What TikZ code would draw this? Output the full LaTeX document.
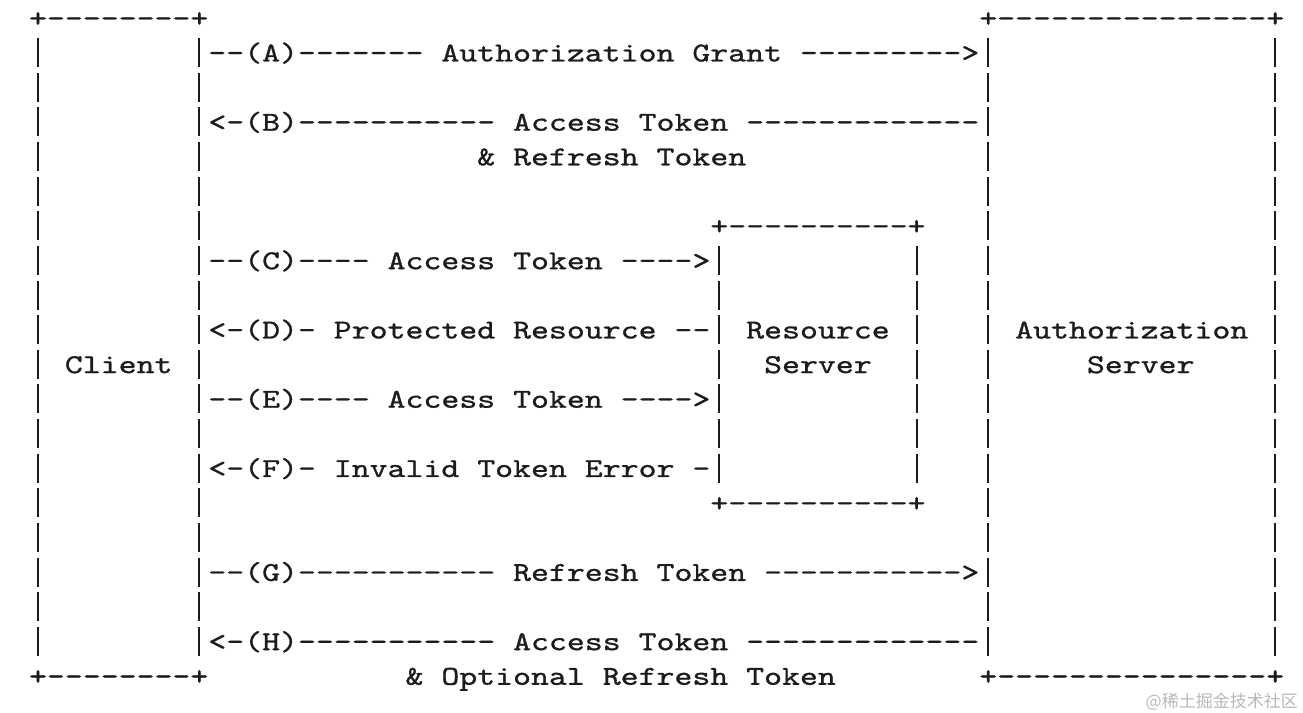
\documentclass[tikz,border=0pt]{standalone}
\usepackage{fontspec}
\newfontfamily\asciifont{lmmono10-regular.otf}[FakeStretch=1.251, FakeBold=1, Ligatures=TeXOff]
\newfontfamily\cjkfont{Noto Sans CJK SC}
\definecolor{ink}{RGB}{28,28,28}
\definecolor{wmark}{RGB}{185,185,185}
\tikzset{
  asc/.style={anchor=base west, inner sep=0pt, outer sep=0pt, text=ink,
    text depth=0pt, font=\asciifont\fontsize{27.3}{30}\selectfont},
  vbar/.style={draw=ink, line width=2.1pt},
}
% name, column, row, text
\newcommand\tx[4]{\node[asc] (#1) at ({29.035+17.93*#2},{26.8+34.63*#3}) {#4};}
\begin{document}
\begin{tikzpicture}[x=1pt, y=-1pt]
\useasboundingbox (0,0) rectangle (1303,712);
\fill[white] (0,0) rectangle (1303,712);

% vertical bars
\foreach \c in {0,9,53,69}
  \foreach \r in {1,...,18}
    \draw[vbar] ({38+17.93*\c},{18+34.63*\r-14.5}) -- ++(0,29);
\foreach \c in {38,49}
  \foreach \r in {7,...,13}
    \draw[vbar] ({38+17.93*\c},{18+34.63*\r-14.5}) -- ++(0,29);

% row 0
\tx{cltop}{0}{0}{+--------+}
\tx{astop}{53}{0}{+---------------+}
% row 1
\tx{msgA}{10}{1}{--(A)------- Authorization Grant --------->}
% row 3-4
\tx{msgB}{10}{3}{<-(B)----------- Access Token -------------}
\tx{msgBb}{25}{4}{\& Refresh Token}
% resource server box
\tx{rstop}{38}{6}{+----------+}
\tx{msgC}{10}{7}{--(C)---- Access Token ---->}
\tx{msgD}{10}{9}{<-(D)- Protected Resource --}
\tx{rsname}{40}{9}{Resource}
\tx{asname}{55}{9}{Authorization}
\tx{clname}{2}{10}{Client}
\tx{rsname2}{41}{10}{Server}
\tx{asname2}{59}{10}{Server}
\tx{msgE}{10}{11}{--(E)---- Access Token ---->}
\tx{msgF}{10}{13}{<-(F)- Invalid Token Error -}
\tx{rsbot}{38}{14}{+----------+}
% refresh
\tx{msgG}{10}{16}{--(G)----------- Refresh Token ----------->}
\tx{msgH}{10}{18}{<-(H)----------- Access Token -------------}
% row 19
\tx{clbot}{0}{19}{+--------+}
\tx{msgHb}{21}{19}{\& Optional Refresh Token}
\tx{asbot}{53}{19}{+---------------+}

% watermark
\node[anchor=base east, inner sep=0pt, text=wmark,
  font=\cjkfont\fontsize{17}{19}\selectfont] (wm) at (1298,707) {@稀土掘金技术社区};
\end{tikzpicture}
\end{document}
